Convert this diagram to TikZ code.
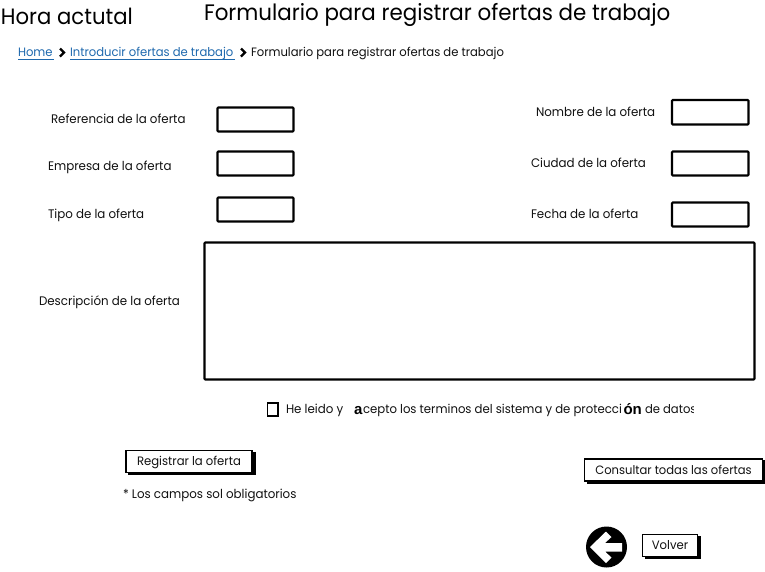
\documentclass[tikz,border=0pt]{standalone}
\usepackage{fontspec}
\setmainfont[FakeStretch=0.955]{Poppins}
\newfontfamily\boldmark{Liberation Sans}
\definecolor{linkblue}{HTML}{1F69AE}
\definecolor{ink}{HTML}{111111}
\tikzset{
  lbl/.style={anchor=base west,inner sep=0pt,outer sep=0pt,text=ink,font=\fontsize{12.4}{14}\selectfont},
  lblsmall/.style={lbl,font=\fontsize{12.15}{14}\selectfont},
  ttl/.style={anchor=base west,inner sep=0pt,outer sep=0pt,text=black,font=\fontsize{22.4}{26}\selectfont},
  boldtxt/.style={anchor=base west,inner sep=0pt,outer sep=0pt,text=black,font=\fontsize{15}{15}\boldmark\bfseries},
  linktxt/.style={lblsmall,text=linkblue},
  field/.style={draw=black,line width=2.1pt,fill=white,rounded corners=0.8pt},
  btn/.style={draw=black,line width=1.6pt,fill=white,inner sep=0pt,text=ink,font=\fontsize{12.2}{14}\selectfont,minimum height=22pt},
  shadow/.style={draw=black,line width=3pt},
  crumb/.style={draw=black,line width=2.3pt,line join=miter}
}
\begin{document}
\begin{tikzpicture}[x=1pt,y=-1pt]
\useasboundingbox (0,0) rectangle (765,571);
\fill[white] (0,0) rectangle (765,571);
% titles
\node[ttl,font=\fontsize{22.2}{26}\selectfont] (hora) at (1,24) {Hora actutal};
\node[ttl] (titulo) at (204,20) {Formulario para registrar ofertas de trabajo};
% breadcrumb
\node[linktxt] (home) at (18,56) {Home};
\draw[linkblue,line width=.8pt] (18,59.5) -- (54,59.5);
\draw[crumb] (60,48.5) -- (64,52.5) -- (60,56.5);
\node[linktxt] (intro) at (70,56) {Introducir ofertas de trabajo};
\draw[linkblue,line width=.8pt] (70,59.5) -- (235,59.5);
\draw[crumb] (241,48.5) -- (245,52.5) -- (241,56.5);
\node[lblsmall] (form) at (251,56) {Formulario para registrar ofertas de trabajo};
% labels
\node[lbl] (l1) at (51,123) {Referencia de la oferta};
\node[lbl] (l2) at (48,170) {Empresa de la oferta};
\node[lbl] (l3) at (48,218) {Tipo de la oferta};
\node[lbl] (l4) at (39,305) {Descripción de la oferta};
\node[lbl] (r1) at (536,116) {Nombre de la oferta};
\node[lbl] (r2) at (531,167) {Ciudad de la oferta};
\node[lbl] (r3) at (531,218) {Fecha de la oferta};
% fields
\draw[field] (217.5,107.5) rectangle (293.5,131.5);
\draw[field] (217.5,151.5) rectangle (293.5,175.5);
\draw[field] (217.5,197.5) rectangle (293.5,221.5);
\draw[field] (672,100) rectangle (748.5,124.5);
\draw[field] (672,151.5) rectangle (748.5,175.5);
\draw[field] (672,202.5) rectangle (748.5,226.5);
\draw[field] (204.5,242.5) rectangle (754.5,379.5);
% checkbox
\draw[draw=black,line width=1.1pt] (267.5,403) rectangle (278,416);
\node[lbl] (he) at (286,413) {He leido y};
\node[boldtxt] (a) at (354,414.5) {a};
\node[lblsmall,font=\fontsize{12.25}{14}\selectfont] (acepto) at (363,413) {cepto los terminos del sistema y de protecci};
\node[boldtxt] (on) at (623.5,414.5) {ón};
\begin{scope}
\clip (640,395) rectangle (693.5,425);
\node[lblsmall] (datos) at (645,413) {de datos};
\end{scope}
% buttons
\draw[shadow] (128,473.5) -- (254,473.5) -- (254,452);
\node[btn,minimum width=126pt,text height=11pt,text depth=3pt] (reg) at (189,461.5) {Registrar la oferta};
\node[lbl] (req) at (123,498) {* Los campos sol obligatorios};
\draw[shadow] (587,482) -- (764.5,482) -- (764.5,460);
\node[btn,minimum width=178pt,font=\fontsize{12.1}{14}\selectfont] (cons) at (673.5,470) {Consultar todas las ofertas};
\draw[shadow] (645,557) -- (699.5,557) -- (699.5,536);
\node[btn,minimum width=55pt] (volver) at (670,545.5) {Volver};
% back icon
\node[circle,fill=black,minimum size=41pt,inner sep=0pt] (back) at (606.5,547) {};
\fill[white] (590,547) -- (606,531.5) -- (611.5,537) -- (605,543) -- (622,543) -- (622,551.5) -- (605,551.5) -- (611.5,557.5) -- (606,563) -- cycle;
\end{tikzpicture}
\end{document}
